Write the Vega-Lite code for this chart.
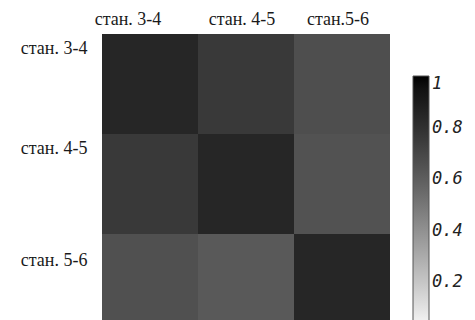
{
  "$schema": "https://vega.github.io/schema/vega-lite/v6.json",
  "autosize": "none",
  "width": 288,
  "height": 300,
  "padding": {"left": 102, "top": 34, "right": 85, "bottom": 0},
  "background": "white",
  "config": {"view": {"stroke": null}},
  "data": {"values": [
    {"row": "стан. 3-4", "col": "стан. 3-4", "r": 0.85},
    {"row": "стан. 3-4", "col": "стан. 4-5", "r": 0.76},
    {"row": "стан. 3-4", "col": "стан.5-6", "r": 0.67},
    {"row": "стан. 4-5", "col": "стан. 3-4", "r": 0.76},
    {"row": "стан. 4-5", "col": "стан. 4-5", "r": 0.85},
    {"row": "стан. 4-5", "col": "стан.5-6", "r": 0.65},
    {"row": "стан. 5-6", "col": "стан. 3-4", "r": 0.66},
    {"row": "стан. 5-6", "col": "стан. 4-5", "r": 0.62},
    {"row": "стан. 5-6", "col": "стан.5-6", "r": 0.85}
  ]},
  "mark": {"type": "rect", "strokeWidth": 0},
  "encoding": {
    "x": {
      "field": "col", "type": "nominal",
      "sort": ["стан. 3-4", "стан. 4-5", "стан.5-6"],
      "scale": {"paddingInner": 0, "paddingOuter": 0},
      "axis": {
        "orient": "top", "title": null, "domain": false, "ticks": false,
        "labelAngle": 0, "labelFont": "Liberation Serif", "labelFontSize": 18,
        "labelColor": "#1a1a1a", "labelPadding": 6,
        "labelOffset": {"expr": "datum.value == 'стан. 3-4' ? -22 : -4"}
      }
    },
    "y": {
      "field": "row", "type": "nominal",
      "sort": ["стан. 3-4", "стан. 4-5", "стан. 5-6"],
      "scale": {"paddingInner": 0, "paddingOuter": 0},
      "axis": {
        "title": null, "domain": false, "ticks": false,
        "labelFont": "Liberation Serif", "labelFontSize": 18,
        "labelColor": "#1a1a1a", "labelPadding": 15,
        "labelOffset": {"expr": "datum.value == 'стан. 5-6' ? -23 : -35"}
      }
    },
    "color": {
      "field": "r", "type": "quantitative",
      "scale": {"domain": [0, 1], "range": ["#ffffff", "#000000"]},
      "legend": {
        "title": null, "orient": "none", "legendX": 311, "legendY": 42,
        "direction": "vertical", "gradientLength": 258, "gradientThickness": 16,
        "gradientStrokeColor": "#555", "gradientStrokeWidth": 1,
        "values": [0.2, 0.4, 0.6, 0.8, 1], "format": ".1~f",
        "labelFont": "DejaVu Sans Mono", "labelFontStyle": "italic",
        "labelFontSize": 17, "labelColor": "#222", "labelOffset": 3,
        "tickCount": 5
      }
    }
  }
}
